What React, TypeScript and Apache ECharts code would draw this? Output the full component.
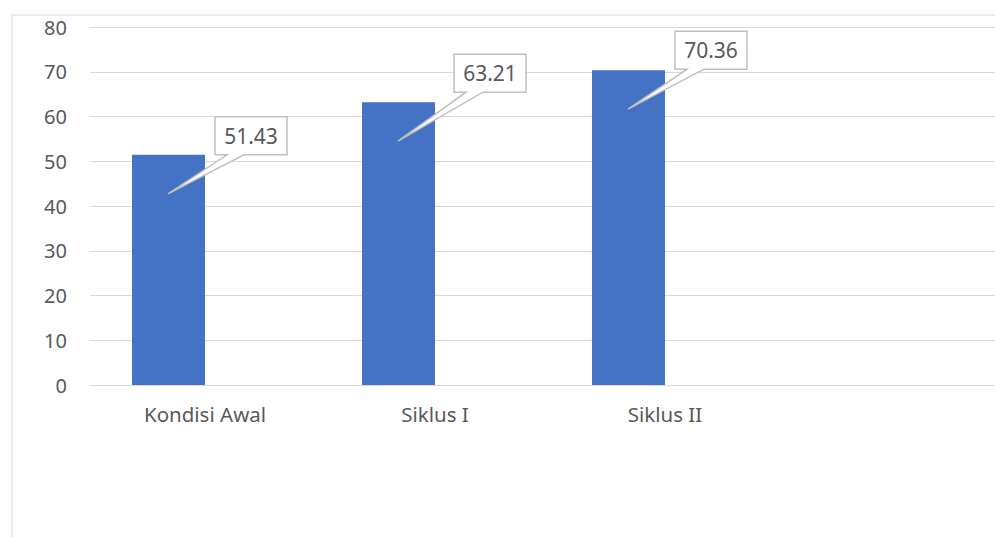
import React, { useEffect, useRef } from "react";
import * as echarts from "echarts";

const categories = ["Kondisi Awal", "Siklus I", "Siklus II", ""];
const values = [51.43, 63.21, 70.36];
const yTicks = { min: 0, max: 80, interval: 10 };

// callout box placement relative to the pointer tip (dx to box left, dy to box bottom)
const calloutOffsets = [
  [47, -39],
  [56, -49],
  [47, -40],
];

const FONT = "'Noto Sans', 'Open Sans', sans-serif";

export default function App() {
  const ref = useRef<HTMLDivElement>(null);
  useEffect(() => {
    if (!ref.current) return;
    const chart = echarts.init(ref.current, null, { renderer: "svg" });
    const option: any = {
      animation: false,
      backgroundColor: "#ffffff",
      graphic: [
        {
          type: "rect",
          left: 9.5,
          top: 12.5,
          shape: { x: 0, y: 0, width: 1100, height: 700 },
          style: { fill: "none", stroke: "#d9d9d9", lineWidth: 1 },
          silent: true,
          z: -1,
        },
      ],
      grid: { left: 90, top: 27, right: 0, bottom: 152, containLabel: false },
      xAxis: {
        type: "category",
        data: categories,
        axisLine: { show: true, lineStyle: { color: "#d9d9d9", width: 1 } },
        axisTick: { show: false },
        axisLabel: {
          color: "#595959",
          fontSize: 20.5,
          fontFamily: FONT,
          margin: 18,
          interval: 0,
        },
      },
      yAxis: {
        type: "value",
        min: yTicks.min,
        max: yTicks.max,
        interval: yTicks.interval,
        axisLine: { show: false },
        axisTick: { show: false },
        splitLine: { lineStyle: { color: "#d9d9d9", width: 1 } },
        axisLabel: {
          color: "#595959",
          fontSize: 20,
          fontFamily: FONT,
          margin: 23,
        },
      },
      series: [
        {
          type: "bar",
          data: values,
          barWidth: 73,
          barGap: "0%",
          itemStyle: { color: "#4472c4" },
        },
        {
          type: "bar",
          data: values.map(() => "-"),
          barWidth: 73,
          barGap: "0%",
          itemStyle: { color: "#ed7d31" },
        },
        {
          type: "custom",
          data: values.map((v, i) => [i, v]),
          z: 10,
          renderItem: (params: any, api: any) => {
            const i = api.value(0);
            const v = api.value(1);
            const top = api.coord([i, v]);
            const tipX = top[0] - 37;
            const tipY = top[1] + 39;
            const off = calloutOffsets[params.dataIndex] || [47, -39];
            const bw = 72;
            const bh = 38;
            const x0 = tipX + off[0];
            const y1 = tipY + off[1];
            const y0 = y1 - bh;
            const x1 = x0 + bw;
            const w1 = x0 + 12;
            const w2 = x0 + 29;
            return {
              type: "group",
              children: [
                {
                  type: "polygon",
                  shape: {
                    points: [
                      [x0, y0],
                      [x1, y0],
                      [x1, y1],
                      [w2, y1],
                      [tipX, tipY],
                      [w1, y1],
                      [x0, y1],
                    ],
                  },
                  style: { fill: "#ffffff", stroke: "#bfbfbf", lineWidth: 1.5 },
                },
                {
                  type: "text",
                  style: {
                    text: v.toFixed(2),
                    x: (x0 + x1) / 2,
                    y: (y0 + y1) / 2,
                    align: "center",
                    verticalAlign: "middle",
                    fill: "#595959",
                    fontSize: 21,
                    fontFamily: FONT,
                  },
                },
              ],
            };
          },
        },
      ],
    };
    chart.setOption(option);
    return () => chart.dispose();
  }, []);
  return (
    <div
      ref={ref}
      style={{ position: "fixed", left: 0, top: 0, width: 1010, height: 537 }}
    />
  );
}
